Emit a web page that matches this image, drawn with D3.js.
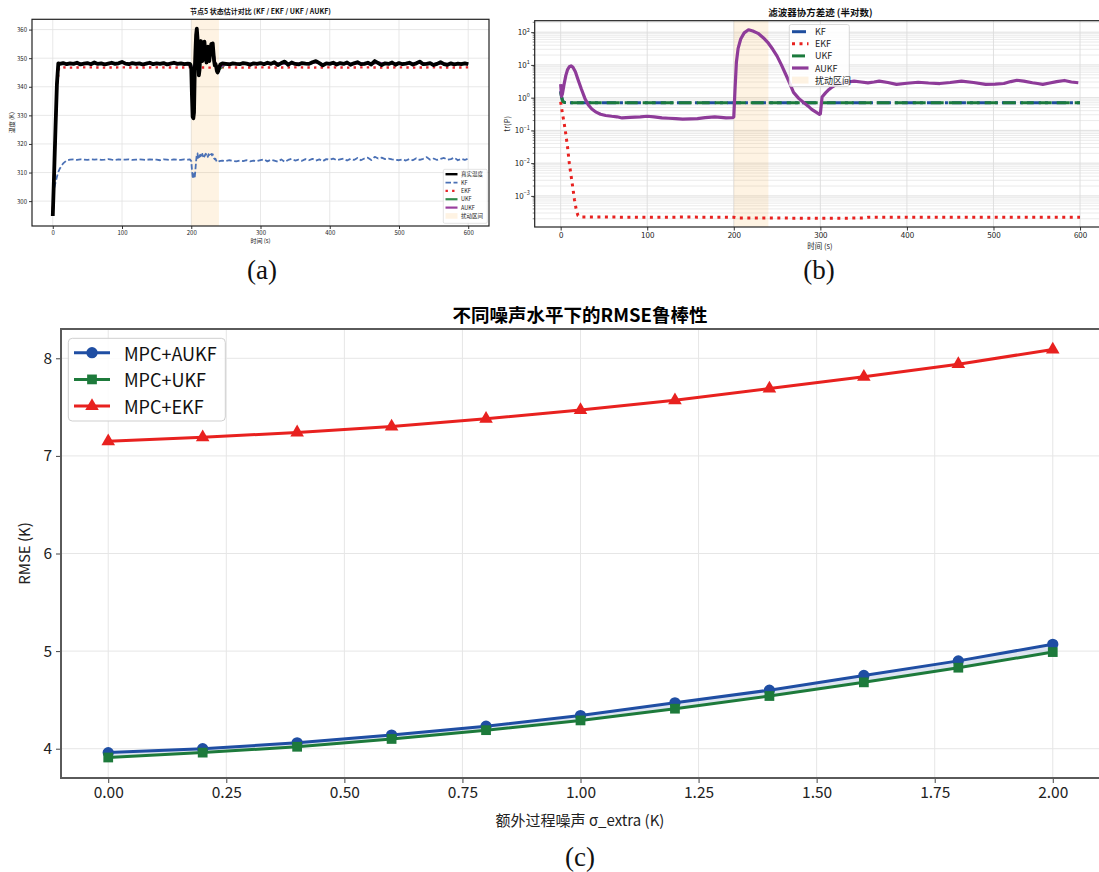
<!DOCTYPE html>
<html>
<head>
<meta charset="utf-8">
<script src="https://cdn.jsdelivr.net/npm/d3@7"></script>
<style>
  body { margin: 0; background: #fff; }
  svg { display: block; }
</style>
</head>
<body>
<svg id="fig" width="1099" height="872"></svg>
<script>
// ---------------- Panel (a): node 5 state estimates, [time s, temperature K] ----------------
const trueTemp = [[0,294.8],[2,310],[4,326],[6,341],[8,348.2],[10,348.0],[15,348.3],[20,347.9],[25,348.2],[30,348.0],[35,348.4],[40,347.8],[45,348.1],[50,348.3],[55,347.9],[60,348.5],[65,348.0],[70,348.2],[75,347.8],[80,348.1],[85,348.4],[90,348.0],[95,348.2],[100,348.7],[105,348.1],[110,347.9],[115,348.3],[120,348.0],[125,348.2],[130,347.8],[135,348.1],[140,348.4],[145,347.9],[150,348.2],[155,348.0],[160,348.3],[165,347.8],[170,348.1],[175,348.4],[180,348.0],[185,348.2],[190,347.9],[195,348.1],[198,348.0],
  [200,346.5],[201,337],[202,329.5],[203,329],[204,331],[205,345],[206,352],[207,358],[208,360.3],[209,357],[210,350],[211,344],[212,346],[213,352],[214,356],[215,353],[216,349],[217,350],[218,354],[219,355.8],[220,353],[221,350],[222,348.5],[223,351],[224,354],[225,352],[226,349],[227,351],[228,353.5],[229,355],[230,354],[231,355.2],[232,352],[233,349],[234,347.5],[235,348],[236,347],[237,345.5],[238,345],[239,345.5],[240,346.5],[242,347.8],[245,348.2],
  [250,348.0],[255,347.8],[260,348.2],[265,348.0],[270,347.9],[275,348.3],[280,348.1],[285,347.7],[290,348.2],[295,348.0],[300,348.3],[305,347.9],[310,348.4],[315,348.0],[320,348.6],[325,347.6],[330,348.3],[335,348.8],[340,347.7],[345,348.5],[350,348.0],[355,347.8],[360,348.3],[365,348.1],[370,348.0],[375,348.6],[380,349.0],[385,348.3],[390,347.5],[395,348.2],[400,348.0],[405,348.4],[410,347.8],[415,348.3],[420,348.0],[425,348.5],[430,347.7],[435,348.2],[440,348.6],[445,347.9],[450,348.0],[455,348.4],[460,347.8],[465,349.0],[470,348.3],[475,347.6],[480,348.2],[485,348.0],[490,348.5],[495,347.7],[500,348.3],[505,347.9],[510,348.1],[515,348.4],[520,347.8],[525,348.2],[530,348.8],[535,347.9],[540,348.0],[545,348.3],[550,347.6],[555,348.0],[560,348.6],[565,347.9],[570,347.7],[575,348.2],[580,347.8],[585,348.1],[590,347.9],[595,348.2],[600,347.9]];

const kfTemp = [[0,302],[2,304.5],[4,306.5],[6,308.5],[8,310.2],[10,311.3],[15,313.2],[20,314.2],[25,314.5],[30,314.6],[35,314.4],[40,314.6],[45,314.5],[50,314.4],[55,314.6],[60,314.5],[65,314.6],[70,314.4],[75,314.5],[80,314.7],[85,314.5],[90,314.4],[95,314.6],[100,314.5],[105,314.5],[110,314.6],[115,314.4],[120,314.5],[125,314.6],[130,314.5],[135,314.4],[140,314.6],[145,314.5],[150,314.5],[155,314.3],[160,314.6],[165,314.5],[170,314.4],[175,314.6],[180,314.5],[185,314.4],[190,314.6],[195,314.5],[198,314.6],
  [200,314.0],[201,311],[202,308.5],[203,307.8],[204,309.5],[205,308.2],[206,311],[207,314],[208,316.3],[209,316.7],[210,315],[211,314.6],[212,315.8],[213,316.2],[214,315.2],[215,315.9],[216,316.5],[217,315.7],[218,316.3],[219,315.6],[220,316.2],[221,316.6],[222,315.8],[223,316.1],[224,315.5],[225,316.4],[226,316.0],[227,315.6],[228,316.2],[229,316.5],[230,316.0],[231,316.4],[232,315.5],[233,315.0],[234,314.6],[235,314.8],[236,314.2],[237,313.8],[238,313.6],[239,313.7],[240,313.9],[242,314.1],[245,314.2],
  [250,314.0],[255,314.3],[260,314.1],[265,313.9],[270,314.2],[275,314.0],[280,314.3],[285,313.9],[290,314.2],[295,314.0],[300,314.3],[305,314.6],[310,313.9],[315,314.5],[320,314.2],[325,313.8],[330,314.6],[335,313.7],[340,314.4],[345,314.8],[350,314.2],[355,314.5],[360,314.1],[365,314.7],[370,314.3],[375,314.8],[380,314.2],[385,314.6],[390,314.0],[395,314.7],[400,314.5],[405,314.9],[410,314.3],[415,314.6],[420,314.9],[425,314.2],[430,314.8],[435,314.4],[440,315.1],[445,314.3],[450,314.9],[455,315.2],[460,314.4],[465,315.5],[470,314.9],[475,315.2],[480,314.7],[485,314.9],[490,314.6],[495,314.5],[500,314.3],[505,314.6],[510,314.2],[515,314.7],[520,314.3],[525,315.0],[530,314.4],[535,314.8],[540,315.4],[545,314.5],[550,314.9],[555,314.4],[560,314.8],[565,315.1],[570,314.5],[575,314.7],[580,315.2],[585,314.3],[590,314.8],[595,314.4],[600,314.9]];

const ekfTemp = [[0,295],[3,318],[6,340],[9,346.5],[12,346.8],[25,346.7],[50,346.8],[75,346.7],[100,346.8],[125,346.7],[150,346.8],[175,346.7],[200,346.8],[225,346.7],[250,346.8],[275,346.7],[300,346.8],[325,346.7],[350,346.8],[375,346.7],[400,346.8],[425,346.7],[450,346.8],[475,346.7],[500,346.8],[525,346.7],[550,346.8],[575,346.7],[600,346.8]];

const ukfTemp = [[0,295],[2,310],[4,326],[6,340.5],[8,347.8],[10,348.0],[20,348.1],[30,348.0],[40,348.0],[50,348.2],[60,348.3],[70,348.1],[80,348.0],[90,348.1],[100,348.4],[110,348.0],[120,348.1],[130,347.9],[140,348.2],[150,348.1],[160,348.1],[170,348.0],[180,348.1],[190,348.0],[200,347.8],[202,340],[204,338],[206,348],[208,356],[210,350],[212,347],[214,353],[216,350],[218,353],[220,353.5],[222,350],[224,352.5],[226,350],[228,353],[230,354],[232,352.5],[234,348.5],[236,347],[238,345.5],[240,346],[250,348.0],[260,348.1],[270,348.0],[280,348.1],[290,348.0],[300,348.2],[310,348.1],[320,348.3],[330,348.1],[340,348.2],[350,348.0],[360,348.2],[370,348.1],[380,348.6],[390,347.9],[400,348.1],[410,348.0],[420,348.1],[430,348.0],[440,348.3],[450,348.1],[460,348.0],[470,348.5],[480,348.0],[490,348.2],[500,348.1],[510,348.1],[520,348.0],[530,348.4],[540,348.1],[550,347.9],[560,348.3],[570,347.9],[580,348.0],[590,348.0],[600,348.0]];

const aukfTemp = [[0,295],[2,310],[4,326],[6,340.8],[8,347.9],[10,348.1],[20,348.0],[30,348.1],[40,348.0],[50,348.2],[60,348.3],[70,348.1],[80,348.0],[90,348.1],[100,348.4],[110,348.0],[120,348.1],[130,347.9],[140,348.2],[150,348.1],[160,348.1],[170,348.0],[180,348.1],[190,348.0],[200,347.6],[202,344],[204,346.3],[206,350],[208,354],[210,352],[212,348.5],[214,351.5],[216,351],[218,352],[220,352.5],[222,349.8],[224,351.5],[226,350.5],[228,352],[230,353],[232,352],[234,349],[236,347.5],[238,346.2],[240,346.6],[250,348.0],[260,348.1],[270,348.0],[280,348.1],[290,348.0],[300,348.2],[310,348.1],[320,348.3],[330,348.1],[340,348.2],[350,348.0],[360,348.2],[370,348.1],[380,348.6],[390,347.9],[400,348.1],[410,348.0],[420,348.1],[430,348.0],[440,348.3],[450,348.1],[460,348.0],[470,348.5],[480,348.0],[490,348.2],[500,348.1],[510,348.1],[520,348.0],[530,348.4],[540,348.1],[550,347.9],[560,348.3],[570,347.9],[580,348.0],[590,348.0],[600,348.0]];

const disturbance = [200, 240];
const timeTicks = [0, 100, 200, 300, 400, 500, 600];
const tempTicks = [300, 310, 320, 330, 340, 350, 360];

// ---------------- Panel (b): covariance trace tr(P), [time s, value] ----------------
const kfTrace = [[0,1.6],[1,1.1],[2,0.85],[3,0.75],[5,0.71],[10,0.70],[50,0.70],[100,0.70],[150,0.70],[200,0.70],[250,0.70],[300,0.70],[350,0.70],[400,0.70],[450,0.70],[500,0.70],[550,0.70],[600,0.70]];
const ukfTrace = [[0,1.5],[1,1.05],[2,0.82],[3,0.74],[5,0.71],[10,0.70],[50,0.70],[100,0.70],[150,0.70],[200,0.70],[250,0.70],[300,0.70],[350,0.70],[400,0.70],[450,0.70],[500,0.70],[550,0.70],[600,0.70]];
const ekfTrace = [[0,0.75],[2,0.33],[4,0.17],[6,0.075],[8,0.030],[10,0.0098],[12,0.0042],[14,0.0018],[16,0.00075],[18,0.00038],[20,0.00025],[22,0.000232],[25,0.000226],[50,0.000225],[100,0.000224],[150,0.000225],[200,0.000222],[205,0.00021],[250,0.00021],[300,0.000208],[350,0.00021],[355,0.000222],[400,0.000223],[450,0.000222],[500,0.000223],[550,0.000222],[600,0.000222]];
const aukfTrace = [[0,2.6],[1,1.1],[2,1.3],[4,2.6],[6,4.8],[8,7.2],[10,8.8],[12,9.3],[14,8.6],[17,6.2],[20,3.6],[24,1.8],[28,0.95],[32,0.6],[36,0.45],[41,0.36],[46,0.31],[52,0.285],[59,0.27],[65,0.26],[71,0.24],[80,0.25],[92,0.26],[100,0.27],[108,0.26],[117,0.24],[125,0.235],[133,0.23],[141,0.22],[150,0.225],[158,0.23],[167,0.245],[178,0.26],[185,0.25],[191,0.24],[199,0.245],[200,0.26],[201.5,2],[203,12],[205,32],[208,62],[212,95],[217,118],[222,108],[228,92],[234,68],[240,46],[245,30],[250,18.6],[255,10],[261,4.5],[265,2.6],[269,1.45],[275,0.95],[281,0.70],[286,0.55],[290,0.44],[295,0.36],[299,0.31],[300,0.32],[302,1.05],[306,1.4],[310,1.78],[314,2.15],[318,2.5],[325,2.8],[332,3.0],[339,3.2],[347,3.0],[355,2.84],[362,3.0],[368,3.2],[378,2.9],[388,2.55],[400,2.75],[413,2.95],[425,2.8],[438,2.7],[450,2.9],[463,3.2],[477,2.9],[491,2.55],[502,2.6],[512,2.7],[520,3.1],[527,3.4],[535,3.2],[545,2.85],[551,2.7],[557,2.55],[565,2.8],[573,3.1],[582,3.35],[590,3.0],[598,2.85]];
const traceDecades = [1e-3, 1e-2, 1e-1, 1, 10, 100];

// ---------------- Panel (c): RMSE vs. extra process noise ----------------
const sigmaExtra = [0.0, 0.2, 0.4, 0.6, 0.8, 1.0, 1.2, 1.4, 1.6, 1.8, 2.0];
const rmseAukf = [3.96, 4.00, 4.06, 4.14, 4.23, 4.34, 4.47, 4.60, 4.75, 4.90, 5.07];
const rmseUkf  = [3.91, 3.96, 4.02, 4.10, 4.19, 4.29, 4.41, 4.54, 4.68, 4.83, 4.99];
const rmseEkf  = [7.15, 7.19, 7.24, 7.30, 7.38, 7.47, 7.57, 7.69, 7.81, 7.94, 8.09];
const sigmaTicks = [0.00, 0.25, 0.50, 0.75, 1.00, 1.25, 1.50, 1.75, 2.00];
const rmseTicks = [4, 5, 6, 7, 8];

// ---------------- drawing ----------------
const FONT = "'Noto Sans CJK SC', 'DejaVu Sans', sans-serif";
const SERIF = "'Liberation Serif', 'DejaVu Serif', serif";
const svg = d3.select('#fig').style('font-family', FONT);

function styleAxis(g, size, color) {
  g.select('.domain').remove();
  g.selectAll('.tick line').attr('stroke', color);
  g.selectAll('.tick text').attr('fill', '#222').style('font-size', size + 'px').style('font-family', FONT);
}
function clipFor(id, box) {
  svg.append('clipPath').attr('id', id).append('rect')
    .attr('x', box.l).attr('y', box.t).attr('width', box.r - box.l).attr('height', box.b - box.t);
}

// ===== Panel (a) =====
const A = { l: 32, t: 19.3, r: 489, b: 226 };
const xA = d3.scaleLinear().domain([-30, 630]).range([A.l, A.r]);
const yA = d3.scaleLinear().domain([291.3, 363.6]).range([A.b, A.t]);
const gA = svg.append('g');
clipFor('clipA', A);

gA.append('g').selectAll('line').data(timeTicks).join('line')
  .attr('x1', d => xA(d)).attr('x2', d => xA(d)).attr('y1', A.t).attr('y2', A.b)
  .attr('stroke', '#e2e2e2').attr('stroke-width', 0.8);
gA.append('g').selectAll('line').data(tempTicks).join('line')
  .attr('y1', d => yA(d)).attr('y2', d => yA(d)).attr('x1', A.l).attr('x2', A.r)
  .attr('stroke', '#e2e2e2').attr('stroke-width', 0.8);
gA.append('rect').attr('x', xA(disturbance[0])).attr('y', A.t)
  .attr('width', xA(disturbance[1]) - xA(disturbance[0])).attr('height', A.b - A.t)
  .attr('fill', '#f5a623').attr('opacity', 0.13);

const lineA = d3.line().x(d => xA(d[0])).y(d => yA(d[1]));
const plotA = gA.append('g').attr('clip-path', 'url(#clipA)');
const seriesA = [
  { name: '真实温度', data: trueTemp, color: '#000000', w: 3.8, dash: null },
  { name: 'KF', data: kfTemp, color: '#4a70b5', w: 1.8, dash: '5.5,2.5' },
  { name: 'EKF', data: ekfTemp, color: '#e6262b', w: 2.4, dash: '2.4,4.2' },
  { name: 'UKF', data: ukfTemp, color: '#2f8a4a', w: 2.2, dash: null },
  { name: 'AUKF', data: aukfTemp, color: '#9a3f9e', w: 2.2, dash: null }
];
// the reference (true) temperature sits on top of the estimates
[1, 2, 3, 4, 0].forEach(i => {
  const s = seriesA[i];
  plotA.append('path').datum(s.data).attr('d', lineA).attr('fill', 'none')
    .attr('stroke', s.color).attr('stroke-width', s.w)
    .attr('stroke-dasharray', s.dash).attr('stroke-linejoin', 'round');
});

const axAx = gA.append('g').attr('transform', `translate(0,${A.b})`)
  .call(d3.axisBottom(xA).tickValues(timeTicks).tickSize(3).tickPadding(2));
styleAxis(axAx, 6, '#333');
const axAy = gA.append('g').attr('transform', `translate(${A.l},0)`)
  .call(d3.axisLeft(yA).tickValues(tempTicks).tickSize(3).tickPadding(2));
styleAxis(axAy, 6, '#333');
gA.append('rect').attr('x', A.l).attr('y', A.t).attr('width', A.r - A.l).attr('height', A.b - A.t)
  .attr('fill', 'none').attr('stroke', '#222').attr('stroke-width', 1.2);

gA.append('text').attr('x', (A.l + A.r) / 2).attr('y', 13.5).attr('text-anchor', 'middle')
  .style('font-size', '7px').style('font-weight', 'bold').attr('fill', '#111')
  .text('节点5 状态估计对比 (KF / EKF / UKF / AUKF)');
gA.append('text').attr('x', (A.l + A.r) / 2).attr('y', 243).attr('text-anchor', 'middle')
  .style('font-size', '6px').attr('fill', '#222').text('时间 (s)');
gA.append('text').attr('transform', `translate(14,${(A.t + A.b) / 2}) rotate(-90)`).attr('text-anchor', 'middle')
  .style('font-size', '6px').attr('fill', '#222').text('温度 (K)');

// legend (a)
const legA = gA.append('g');
legA.append('rect').attr('x', 443.3).attr('y', 169.3).attr('width', 44).attr('height', 54).attr('rx', 1.5)
  .attr('fill', '#fff').attr('fill-opacity', 0.85).attr('stroke', '#d0d0d0').attr('stroke-width', 0.6);
seriesA.forEach((s, i) => {
  const y = 174.2 + i * 8.35;
  legA.append('line').attr('x1', 445.5).attr('x2', 457.5).attr('y1', y).attr('y2', y)
    .attr('stroke', s.color).attr('stroke-width', Math.min(s.w, 2.4)).attr('stroke-dasharray', s.dash);
  legA.append('text').attr('x', 461).attr('y', y).attr('dominant-baseline', 'central')
    .style('font-size', '5.5px').attr('fill', '#222').text(s.name);
});
legA.append('rect').attr('x', 445.5).attr('y', 174.2 + 5 * 8.35 - 2.8).attr('width', 12).attr('height', 5.6)
  .attr('fill', '#f5a623').attr('opacity', 0.13);
legA.append('text').attr('x', 461).attr('y', 174.2 + 5 * 8.35).attr('dominant-baseline', 'central')
  .style('font-size', '5.5px').attr('fill', '#222').text('扰动区间');

svg.append('text').attr('x', 262).attr('y', 279).attr('text-anchor', 'middle')
  .style('font-family', SERIF).style('font-size', '27px').attr('fill', '#111').text('(a)');

// ===== Panel (b) =====
const B = { l: 534.7, t: 20.7, r: 1106, b: 227 };
const xB = d3.scaleLinear().domain([-30, 630]).range([B.l, B.r]);
const yB = d3.scaleLog().domain([Math.pow(10, -3.95), Math.pow(10, 2.35)]).range([B.b, B.t]);
const gB = svg.append('g');
clipFor('clipB', B);

const minorB = [];
for (let k = -4; k <= 2; k++) for (let m = 2; m <= 9; m++) {
  const v = m * Math.pow(10, k);
  if (v > yB.domain()[0] && v < yB.domain()[1]) minorB.push(v);
}
gB.append('g').selectAll('line').data(minorB).join('line')
  .attr('y1', d => yB(d)).attr('y2', d => yB(d)).attr('x1', B.l).attr('x2', B.r)
  .attr('stroke', '#e6e6e6').attr('stroke-width', 0.8);
gB.append('g').selectAll('line').data(traceDecades).join('line')
  .attr('y1', d => yB(d)).attr('y2', d => yB(d)).attr('x1', B.l).attr('x2', B.r)
  .attr('stroke', '#dcdcdc').attr('stroke-width', 0.9);
gB.append('g').selectAll('line').data(timeTicks).join('line')
  .attr('x1', d => xB(d)).attr('x2', d => xB(d)).attr('y1', B.t).attr('y2', B.b)
  .attr('stroke', '#dcdcdc').attr('stroke-width', 0.9);
gB.append('rect').attr('x', xB(disturbance[0])).attr('y', B.t)
  .attr('width', xB(disturbance[1]) - xB(disturbance[0])).attr('height', B.b - B.t)
  .attr('fill', '#f5a623').attr('opacity', 0.13);

const lineB = d3.line().x(d => xB(d[0])).y(d => yB(d[1]));
const plotB = gB.append('g').attr('clip-path', 'url(#clipB)');
const seriesB = [
  { name: 'KF', data: kfTrace, color: '#1f4e9e', w: 3, dash: '14,4,3,4' },
  { name: 'EKF', data: ekfTrace, color: '#e8211f', w: 3, dash: '3,4.5' },
  { name: 'UKF', data: ukfTrace, color: '#1b7a3c', w: 3, dash: '13,5' },
  { name: 'AUKF', data: aukfTrace, color: '#8e3b99', w: 3.2, dash: null }
];
seriesB.forEach(s => {
  plotB.append('path').datum(s.data).attr('d', lineB).attr('fill', 'none')
    .attr('stroke', s.color).attr('stroke-width', s.w)
    .attr('stroke-dasharray', s.dash).attr('stroke-linejoin', 'round');
});

const axBx = gB.append('g').attr('transform', `translate(0,${B.b})`)
  .call(d3.axisBottom(xB).tickValues(timeTicks).tickSize(3.5).tickPadding(2));
styleAxis(axBx, 8, '#333');
const axBy = gB.append('g').attr('transform', `translate(${B.l},0)`)
  .call(d3.axisLeft(yB).tickValues(traceDecades).tickSize(3.5).tickFormat(''));
styleAxis(axBy, 8, '#333');
gB.append('g').selectAll('line').data(minorB).join('line')
  .attr('x1', B.l - 2).attr('x2', B.l).attr('y1', d => yB(d)).attr('y2', d => yB(d))
  .attr('stroke', '#333').attr('stroke-width', 0.6);
traceDecades.forEach(v => {
  const e = Math.round(Math.log10(v));
  const t = gB.append('text').attr('x', B.l - 5).attr('y', yB(v) + 3).attr('text-anchor', 'end')
    .style('font-size', '8px').attr('fill', '#222');
  t.append('tspan').text('10');
  t.append('tspan').attr('dy', -3.5).style('font-size', '5.5px').text(e < 0 ? '\u2212' + (-e) : String(e));
});
gB.append('rect').attr('x', B.l).attr('y', B.t).attr('width', B.r - B.l).attr('height', B.b - B.t)
  .attr('fill', 'none').attr('stroke', '#222').attr('stroke-width', 1.2);

gB.append('text').attr('x', (B.l + B.r) / 2).attr('y', 15.5).attr('text-anchor', 'middle')
  .style('font-size', '9.5px').style('font-weight', 'bold').attr('fill', '#111').text('滤波器协方差迹 (半对数)');
gB.append('text').attr('x', 820).attr('y', 249).attr('text-anchor', 'middle')
  .style('font-size', '7.5px').attr('fill', '#222').text('时间 (s)');
gB.append('text').attr('transform', `translate(510,${(B.t + B.b) / 2}) rotate(-90)`).attr('text-anchor', 'middle')
  .style('font-size', '7.5px').attr('fill', '#222').text('tr(P)');

// legend (b)
const legB = gB.append('g');
legB.append('rect').attr('x', 789.3).attr('y', 24.5).attr('width', 60).attr('height', 62).attr('rx', 2)
  .attr('fill', '#fff').attr('fill-opacity', 0.85).attr('stroke', '#d0d0d0').attr('stroke-width', 0.8);
seriesB.forEach((s, i) => {
  const y = 31.7 + i * 12.1;
  legB.append('line').attr('x1', 792).attr('x2', 808.5).attr('y1', y).attr('y2', y)
    .attr('stroke', s.color).attr('stroke-width', s.w).attr('stroke-dasharray', s.dash);
  legB.append('text').attr('x', 815).attr('y', y).attr('dominant-baseline', 'central')
    .style('font-size', '9px').attr('fill', '#222').text(s.name);
});
legB.append('rect').attr('x', 792).attr('y', 31.7 + 4 * 12.1 - 3.5).attr('width', 16.5).attr('height', 7)
  .attr('fill', '#f5a623').attr('opacity', 0.13);
legB.append('text').attr('x', 815).attr('y', 31.7 + 4 * 12.1).attr('dominant-baseline', 'central')
  .style('font-size', '9px').attr('fill', '#222').text('扰动区间');

svg.append('text').attr('x', 819).attr('y', 279).attr('text-anchor', 'middle')
  .style('font-family', SERIF).style('font-size', '27px').attr('fill', '#111').text('(b)');

// ===== Panel (c) =====
const C = { l: 61, t: 329, r: 1100, b: 778 };
const xC = d3.scaleLinear().domain([-0.1, 2.1]).range([C.l, C.r]);
const yC = d3.scaleLinear().domain([3.70, 8.30]).range([C.b, C.t]);
const gC = svg.append('g');

gC.append('g').selectAll('line').data(sigmaTicks).join('line')
  .attr('x1', d => xC(d)).attr('x2', d => xC(d)).attr('y1', C.t).attr('y2', C.b)
  .attr('stroke', '#e6e6e6').attr('stroke-width', 1);
gC.append('g').selectAll('line').data(rmseTicks).join('line')
  .attr('y1', d => yC(d)).attr('y2', d => yC(d)).attr('x1', C.l).attr('x2', C.r)
  .attr('stroke', '#e6e6e6').attr('stroke-width', 1);

const band = sigmaExtra.map((s, i) => ({ s, hi: rmseAukf[i], lo: rmseUkf[i] }));
gC.append('path').datum(band)
  .attr('d', d3.area().x(d => xC(d.s)).y0(d => yC(d.lo)).y1(d => yC(d.hi)))
  .attr('fill', '#1f4ea3').attr('opacity', 0.15);

const seriesC = [
  { name: 'MPC+AUKF', vals: rmseAukf, color: '#1f4ea3', sym: d3.symbolCircle, size: 100 },
  { name: 'MPC+UKF', vals: rmseUkf, color: '#1d7a3b', sym: d3.symbolSquare, size: 95 },
  { name: 'MPC+EKF', vals: rmseEkf, color: '#e8211f', sym: d3.symbolTriangle, size: 80 }
];
const lineC = d3.line().x(d => xC(d[0])).y(d => yC(d[1]));
seriesC.forEach(s => {
  const pts = sigmaExtra.map((x, i) => [x, s.vals[i]]);
  gC.append('path').datum(pts).attr('d', lineC).attr('fill', 'none')
    .attr('stroke', s.color).attr('stroke-width', 3).attr('stroke-linejoin', 'round');
  gC.append('g').selectAll('path').data(pts).join('path')
    .attr('transform', d => `translate(${xC(d[0])},${yC(d[1])})`)
    .attr('d', d3.symbol().type(s.sym).size(s.size)).attr('fill', s.color);
});

const axCx = gC.append('g').attr('transform', `translate(0,${C.b})`)
  .call(d3.axisBottom(xC).tickValues(sigmaTicks).tickFormat(d3.format('.2f')).tickSize(5).tickPadding(4));
styleAxis(axCx, 15.5, '#444');
const axCy = gC.append('g').attr('transform', `translate(${C.l},0)`)
  .call(d3.axisLeft(yC).tickValues(rmseTicks).tickFormat(d3.format('d')).tickSize(5).tickPadding(4));
styleAxis(axCy, 15.5, '#444');
gC.append('rect').attr('x', C.l).attr('y', C.t).attr('width', C.r - C.l).attr('height', C.b - C.t)
  .attr('fill', 'none').attr('stroke', '#5a5a5a').attr('stroke-width', 2);

gC.append('text').attr('x', 580).attr('y', 322).attr('text-anchor', 'middle')
  .style('font-size', '18.5px').style('font-weight', 'bold').attr('fill', '#000').text('不同噪声水平下的RMSE鲁棒性');
gC.append('text').attr('x', 580).attr('y', 826).attr('text-anchor', 'middle')
  .style('font-size', '15px').attr('fill', '#222').text('额外过程噪声 σ_extra (K)');
gC.append('text').attr('transform', `translate(30,${(C.t + C.b) / 2}) rotate(-90)`).attr('text-anchor', 'middle')
  .style('font-size', '15px').attr('fill', '#222').text('RMSE (K)');

// legend (c)
const legC = gC.append('g');
legC.append('rect').attr('x', 68.3).attr('y', 338.3).attr('width', 157).attr('height', 82.7).attr('rx', 4)
  .attr('fill', '#fff').attr('fill-opacity', 0.85).attr('stroke', '#cfcfcf').attr('stroke-width', 1);
seriesC.forEach((s, i) => {
  const y = 352.7 + i * 26.7;
  legC.append('line').attr('x1', 74).attr('x2', 110).attr('y1', y).attr('y2', y)
    .attr('stroke', s.color).attr('stroke-width', 3);
  legC.append('path').attr('transform', `translate(92,${y})`)
    .attr('d', d3.symbol().type(s.sym).size(s.size)).attr('fill', s.color);
  legC.append('text').attr('x', 124).attr('y', y).attr('dominant-baseline', 'central')
    .style('font-size', '18px').attr('fill', '#111').text(s.name);
});

svg.append('text').attr('x', 580).attr('y', 866).attr('text-anchor', 'middle')
  .style('font-family', SERIF).style('font-size', '27px').attr('fill', '#111').text('(c)');
</script>
</body>
</html>
